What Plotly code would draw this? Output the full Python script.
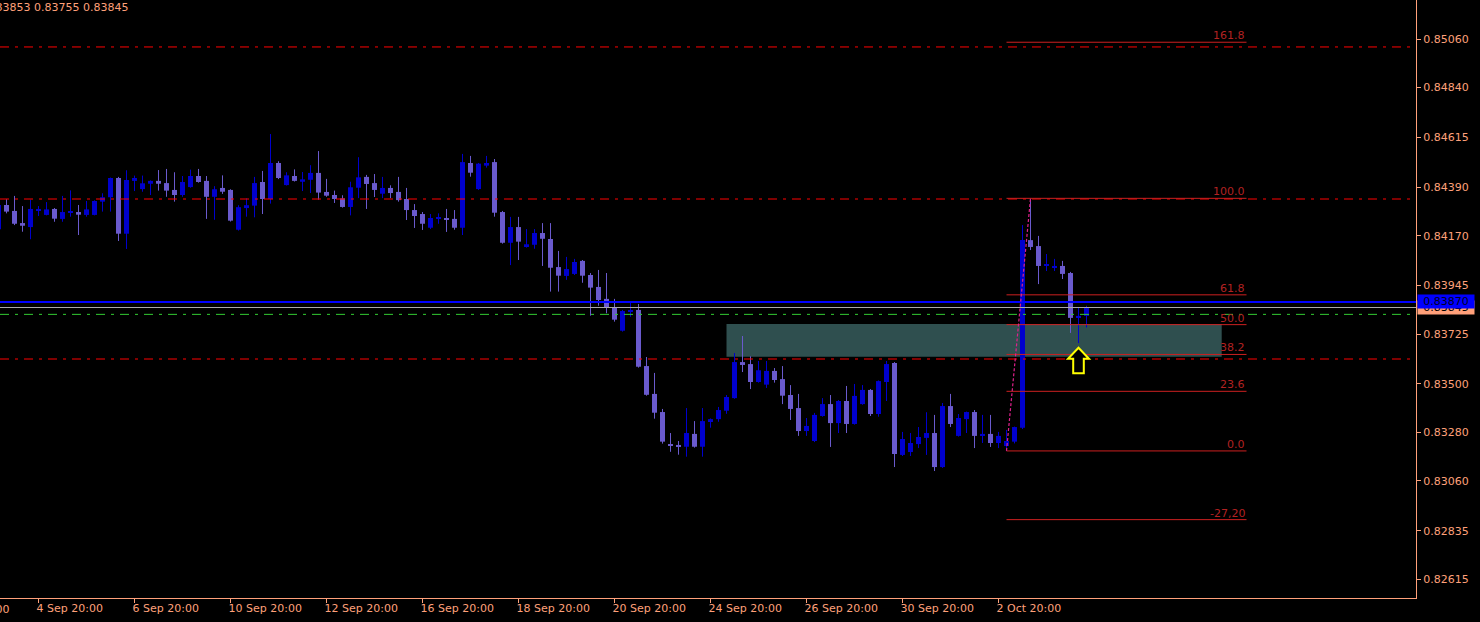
import plotly.graph_objects as go

# ---------------- data (EURGBP H4) ----------------
bar_index = list(range(-1, 136))

opens = [0.84199, 0.84309, 0.84282, 0.84227, 0.84209, 0.84286, 0.84264, 0.84291, 0.84246, 0.84273,
         0.84277, 0.84264, 0.84264, 0.84324, 0.84344, 0.84431, 0.84179, 0.84418, 0.84381, 0.84405,
         0.84418, 0.84408, 0.84377, 0.84354, 0.84390, 0.84440, 0.84418, 0.84346, 0.84386, 0.84377,
         0.84197, 0.84295, 0.84306, 0.84413, 0.84336, 0.84499, 0.84399, 0.84440, 0.84414, 0.84423,
         0.84454, 0.84368, 0.84354, 0.84339, 0.84300, 0.84387, 0.84436, 0.84408, 0.84360, 0.84386,
         0.84368, 0.84336, 0.84286, 0.84268, 0.84206, 0.84247, 0.84250, 0.84246, 0.84206, 0.84499,
         0.84381, 0.84487, 0.84503, 0.84277, 0.84138, 0.84209, 0.84123, 0.84129, 0.84182, 0.84155,
         0.84028, 0.83988, 0.83997, 0.84056, 0.83992, 0.83938, 0.83884, 0.83847, 0.83740, 0.83825,
         0.83834, 0.83580, 0.83454, 0.83372, 0.83224, 0.83223, 0.83215, 0.83273, 0.83215, 0.83327,
         0.83340, 0.83378, 0.83435, 0.83598, 0.83589, 0.83508, 0.83496, 0.83558, 0.83521, 0.83449,
         0.83390, 0.83286, 0.83241, 0.83354, 0.83408, 0.83322, 0.83422, 0.83318, 0.83408, 0.83472,
         0.83363, 0.83508, 0.83594, 0.83178, 0.83191, 0.83227, 0.83255, 0.83277, 0.83123, 0.83399,
         0.83264, 0.83340, 0.83372, 0.83264, 0.83273, 0.83232, 0.83218, 0.83238, 0.83301, 0.84150,
         0.84123, 0.84033, 0.84024, 0.84033, 0.84001, 0.83802, 0.83807]

highs = [0.84318, 0.84335, 0.84350, 0.84304, 0.84333, 0.84304, 0.84322, 0.84295, 0.84350, 0.84375,
         0.84309, 0.84327, 0.84330, 0.84362, 0.84433, 0.84436, 0.84466, 0.84442, 0.84442, 0.84420,
         0.84467, 0.84472, 0.84457, 0.84440, 0.84469, 0.84472, 0.84440, 0.84394, 0.84443, 0.84380,
         0.84308, 0.84339, 0.84436, 0.84463, 0.84630, 0.84507, 0.84457, 0.84470, 0.84458, 0.84489,
         0.84553, 0.84427, 0.84374, 0.84353, 0.84414, 0.84525, 0.84445, 0.84449, 0.84436, 0.84398,
         0.84436, 0.84386, 0.84313, 0.84277, 0.84268, 0.84271, 0.84291, 0.84286, 0.84540, 0.84531,
         0.84499, 0.84531, 0.84517, 0.84282, 0.84255, 0.84255, 0.84200, 0.84200, 0.84227, 0.84227,
         0.84101, 0.84074, 0.84065, 0.84060, 0.84001, 0.84015, 0.84001, 0.83884, 0.83834, 0.83871,
         0.83861, 0.83621, 0.83549, 0.83386, 0.83277, 0.83241, 0.83390, 0.83331, 0.83390, 0.83343,
         0.83395, 0.83449, 0.83639, 0.83716, 0.83624, 0.83603, 0.83603, 0.83571, 0.83580, 0.83494,
         0.83454, 0.83345, 0.83368, 0.83435, 0.83449, 0.83426, 0.83490, 0.83499, 0.83494, 0.83476,
         0.83515, 0.83603, 0.83598, 0.83282, 0.83277, 0.83304, 0.83371, 0.83359, 0.83413, 0.83454,
         0.83363, 0.83374, 0.83381, 0.83359, 0.83359, 0.83282, 0.83291, 0.83306, 0.84218, 0.84339,
         0.84169, 0.84087, 0.84065, 0.84056, 0.84006, 0.83843, 0.83853]

lows = [0.84191, 0.84271, 0.84218, 0.84188, 0.84154, 0.84259, 0.84262, 0.84233, 0.84233, 0.84256,
        0.84173, 0.84256, 0.84262, 0.84279, 0.84279, 0.84146, 0.84110, 0.84372, 0.84369, 0.84354,
        0.84374, 0.84346, 0.84324, 0.84346, 0.84387, 0.84410, 0.84246, 0.84242, 0.84359, 0.84234,
        0.84193, 0.84256, 0.84253, 0.84268, 0.84315, 0.84426, 0.84397, 0.84415, 0.84372, 0.84363,
        0.84333, 0.84346, 0.84318, 0.84297, 0.84262, 0.84340, 0.84291, 0.84345, 0.84340, 0.84340,
        0.84324, 0.84241, 0.84205, 0.84196, 0.84200, 0.84224, 0.84187, 0.84197, 0.84173, 0.84437,
        0.84377, 0.84478, 0.84256, 0.84134, 0.84037, 0.84060, 0.84116, 0.84111, 0.84033, 0.83917,
        0.83917, 0.83970, 0.83992, 0.83957, 0.83808, 0.83853, 0.83819, 0.83781, 0.83736, 0.83803,
        0.83573, 0.83446, 0.83342, 0.83229, 0.83192, 0.83179, 0.83170, 0.83211, 0.83170, 0.83301,
        0.83328, 0.83364, 0.83432, 0.83553, 0.83476, 0.83505, 0.83481, 0.83505, 0.83408, 0.83336,
        0.83264, 0.83264, 0.83236, 0.83351, 0.83214, 0.83277, 0.83277, 0.83315, 0.83405, 0.83354,
        0.83351, 0.83422, 0.83123, 0.83173, 0.83173, 0.83209, 0.83178, 0.83105, 0.83119, 0.83304,
        0.83261, 0.83277, 0.83209, 0.83232, 0.83214, 0.83209, 0.83196, 0.83230, 0.83295, 0.84105,
        0.83951, 0.84010, 0.84010, 0.83974, 0.83730, 0.83684, 0.83755]

closes = [0.84309, 0.84279, 0.84224, 0.84215, 0.84291, 0.84291, 0.84289, 0.84247, 0.84277, 0.84277,
          0.84265, 0.84289, 0.84327, 0.84344, 0.84431, 0.84179, 0.84422, 0.84431, 0.84407, 0.84418,
          0.84405, 0.84374, 0.84354, 0.84413, 0.84440, 0.84413, 0.84346, 0.84380, 0.84369, 0.84238,
          0.84299, 0.84308, 0.84408, 0.84336, 0.84499, 0.84431, 0.84443, 0.84418, 0.84425, 0.84454,
          0.84365, 0.84351, 0.84336, 0.84300, 0.84389, 0.84434, 0.84404, 0.84377, 0.84386, 0.84363,
          0.84331, 0.84286, 0.84259, 0.84224, 0.84250, 0.84253, 0.84242, 0.84206, 0.84503, 0.84455,
          0.84496, 0.84499, 0.84274, 0.84138, 0.84209, 0.84143, 0.84131, 0.84182, 0.84156, 0.84025,
          0.83989, 0.84019, 0.84051, 0.83989, 0.83935, 0.83879, 0.83844, 0.83790, 0.83829, 0.83832,
          0.83577, 0.83450, 0.83369, 0.83238, 0.83220, 0.83215, 0.83277, 0.83215, 0.83331, 0.83340,
          0.83381, 0.83440, 0.83598, 0.83585, 0.83508, 0.83561, 0.83558, 0.83517, 0.83446, 0.83386,
          0.83286, 0.83309, 0.83359, 0.83408, 0.83322, 0.83422, 0.83318, 0.83445, 0.83472, 0.83363,
          0.83512, 0.83589, 0.83182, 0.83250, 0.83232, 0.83259, 0.83277, 0.83123, 0.83399, 0.83318,
          0.83345, 0.83372, 0.83264, 0.83273, 0.83232, 0.83264, 0.83241, 0.83304, 0.84150, 0.84119,
          0.84033, 0.84037, 0.84033, 0.83997, 0.83798, 0.83807, 0.83845]

tick_bars = [4, 16, 28, 40, 52, 64, 76, 88, 100, 112, 124]
tick_labels = ["4 Sep 20:00", "6 Sep 20:00", "10 Sep 20:00", "12 Sep 20:00", "16 Sep 20:00",
               "18 Sep 20:00", "20 Sep 20:00", "24 Sep 20:00", "26 Sep 20:00", "30 Sep 20:00",
               "2 Oct 20:00"]
prev_tick_bar = -8
prev_tick_label = "2 Sep 20:00"

price_ticks = [0.85060, 0.84840, 0.84615, 0.84390, 0.84170, 0.83945,
               0.83725, 0.83500, 0.83280, 0.83060, 0.82835, 0.82615]

red_hlines = [0.85024, 0.84336, 0.83612]
ask_price = 0.83870
green_hline = 0.83814

fib_low_bar = 125
fib_high_bar = 128
fib_end_bar = 155
fib_levels = [161.8, 100.0, 61.8, 50.0, 38.2, 23.6, 0.0, -27.2]
fib_texts = ["161.8", "100.0", "61.8", "50.0", "38.2", "23.6", "0.0", "-27,20"]

zone_bars = [90, 151.9]
zone_prices = [0.83622, 0.83770]

arrow_bar = 134
arrow_price = 0.83663

# ---------------- styling ----------------
BG = "#000000"
FG = "#FFA07A"
BULL = "#0000CD"
BEAR = "#6A5ACD"
FONT = "DejaVu Sans"
DASHDOT = "9px,6px,3px,6px"

W, H = 1480, 622
ML, MR, MT, MB = 0, 64, 0, 24
PX_PER_BAR = 8.0
plot_w = W - ML - MR
x_lo = -6.5 / PX_PER_BAR
x_hi = x_lo + plot_w / PX_PER_BAR
y_lo, y_hi = 0.825305, 0.852365

bid_price = closes[-1]
fib_low = lows[bar_index.index(fib_low_bar)]
fib_high = highs[bar_index.index(fib_high_bar)]

fig = go.Figure()

for is_bull, col in ((True, BULL), (False, BEAR)):
    sel = [k for k in range(len(bar_index)) if (closes[k] >= opens[k]) == is_bull]
    wx, wy = [], []
    for k in sel:
        wx += [bar_index[k], bar_index[k], None]
        wy += [lows[k], highs[k], None]
    fig.add_trace(go.Scatter(x=wx, y=wy, mode="lines", line=dict(color=col, width=1),
                             hoverinfo="skip", showlegend=False))
    fig.add_trace(go.Bar(
        x=[bar_index[k] for k in sel],
        y=[max(abs(closes[k] - opens[k]), 0.00005) for k in sel],
        base=[min(opens[k], closes[k]) for k in sel],
        width=5.0 / PX_PER_BAR, marker=dict(color=col, line=dict(width=0)),
        hoverinfo="skip", showlegend=False))

shapes = []
shapes.append(dict(type="rect", layer="below", xref="x", yref="y",
                   x0=zone_bars[0], x1=zone_bars[1], y0=zone_prices[0], y1=zone_prices[1],
                   fillcolor="#2F4F4F", line=dict(width=0)))
for v in red_hlines:
    shapes.append(dict(type="line", xref="paper", x0=0, x1=1, yref="y", y0=v, y1=v,
                       line=dict(color="#FF0000", width=1, dash=DASHDOT)))
shapes.append(dict(type="line", xref="paper", x0=0, x1=1, yref="y", y0=green_hline, y1=green_hline,
                   line=dict(color="#32CD32", width=1, dash=DASHDOT)))
shapes.append(dict(type="line", xref="paper", x0=0, x1=1, yref="y", y0=bid_price, y1=bid_price,
                   line=dict(color="#A9A9A9", width=1)))
shapes.append(dict(type="line", xref="paper", x0=0, x1=1, yref="y", y0=ask_price, y1=ask_price,
                   line=dict(color="#0000FF", width=2)))

annotations = []
for lev, txt in zip(fib_levels, fib_texts):
    p = fib_low + (fib_high - fib_low) * lev / 100.0
    shapes.append(dict(type="line", xref="x", yref="y", x0=fib_low_bar, x1=fib_end_bar, y0=p, y1=p,
                       line=dict(color="#CC2020", width=1)))
    annotations.append(dict(x=fib_end_bar, y=p, xref="x", yref="y", text=txt, showarrow=False,
                            xanchor="right", yanchor="bottom", yshift=-2,
                            font=dict(family=FONT, size=11, color="#B22222")))
shapes.append(dict(type="line", xref="x", yref="y", x0=fib_low_bar, y0=fib_low,
                   x1=fib_high_bar, y1=fib_high,
                   line=dict(color="#E0208C", width=1.2, dash="3px,2px")))

shapes.append(dict(type="path", xref="x", yref="y", xsizemode="pixel", ysizemode="pixel",
                   xanchor=arrow_bar, yanchor=arrow_price,
                   path="M 0 0 L 10.5 -11 L 5.3 -11 L 5.3 -25.5 L -5.3 -25.5 L -5.3 -11 L -10.5 -11 Z",
                   fillcolor="#000000", line=dict(color="#FFFF00", width=2)))

# right-side price labels (bid under, ask on top)
annotations.append(dict(xref="paper", x=1, xanchor="left", xshift=1, yref="y", y=bid_price,
                        text=f"{bid_price:.5f}", showarrow=False, width=56, height=13,
                        bgcolor=FG, borderpad=0, font=dict(family=FONT, size=11, color="#000000")))
annotations.append(dict(xref="paper", x=1, xanchor="left", xshift=1, yref="y", y=ask_price,
                        text=f"{ask_price:.5f}", showarrow=False, width=56, height=13,
                        bgcolor="#0000FF", borderpad=0, font=dict(family=FONT, size=11, color="#000020")))

# header with last bar OHLC (scrolled partly off the left edge)
header = f"{opens[-1]:.5f} {highs[-1]:.5f} {lows[-1]:.5f} {closes[-1]:.5f}"
annotations.append(dict(xref="paper", x=0, xshift=-66, xanchor="left", yref="paper", y=1,
                        yanchor="top", yshift=1, text=header, showarrow=False,
                        font=dict(family=FONT, size=11, color=FG)))

# partially visible time label at the left edge
annotations.append(dict(xref="paper", x=(prev_tick_bar - x_lo) / (x_hi - x_lo), xanchor="left",
                        xshift=-2, yref="paper", y=0, yanchor="top", yshift=-3,
                        text=prev_tick_label, showarrow=False,
                        font=dict(family=FONT, size=11, color=FG)))

fig.update_layout(
    width=W, height=H, margin=dict(l=ML, r=MR, t=MT, b=MB),
    paper_bgcolor=BG, plot_bgcolor=BG, barmode="overlay",
    showlegend=False, hovermode=False, dragmode=False,
    shapes=shapes, annotations=annotations,
    xaxis=dict(range=[x_lo, x_hi], showgrid=False, zeroline=False, showline=True,
               linecolor=FG, linewidth=1, ticks="outside", ticklen=4, tickcolor=FG,
               tickvals=tick_bars, ticktext=tick_labels, ticklabelposition="outside right",
               ticklabelshift=-3,
               tickfont=dict(family=FONT, size=11, color=FG), fixedrange=True),
    yaxis=dict(range=[y_lo, y_hi], side="right", showgrid=False, zeroline=False, showline=True,
               linecolor=FG, linewidth=1, ticks="outside", ticklen=4, tickcolor=FG,
               tickvals=price_ticks, ticktext=[f"{v:.5f}" for v in price_ticks],
               tickfont=dict(family=FONT, size=11, color=FG), fixedrange=True),
)

fig.write_html("out.html", config={"displayModeBar": False},
               post_script="document.body.style.margin='0';document.body.style.overflow='hidden';")
